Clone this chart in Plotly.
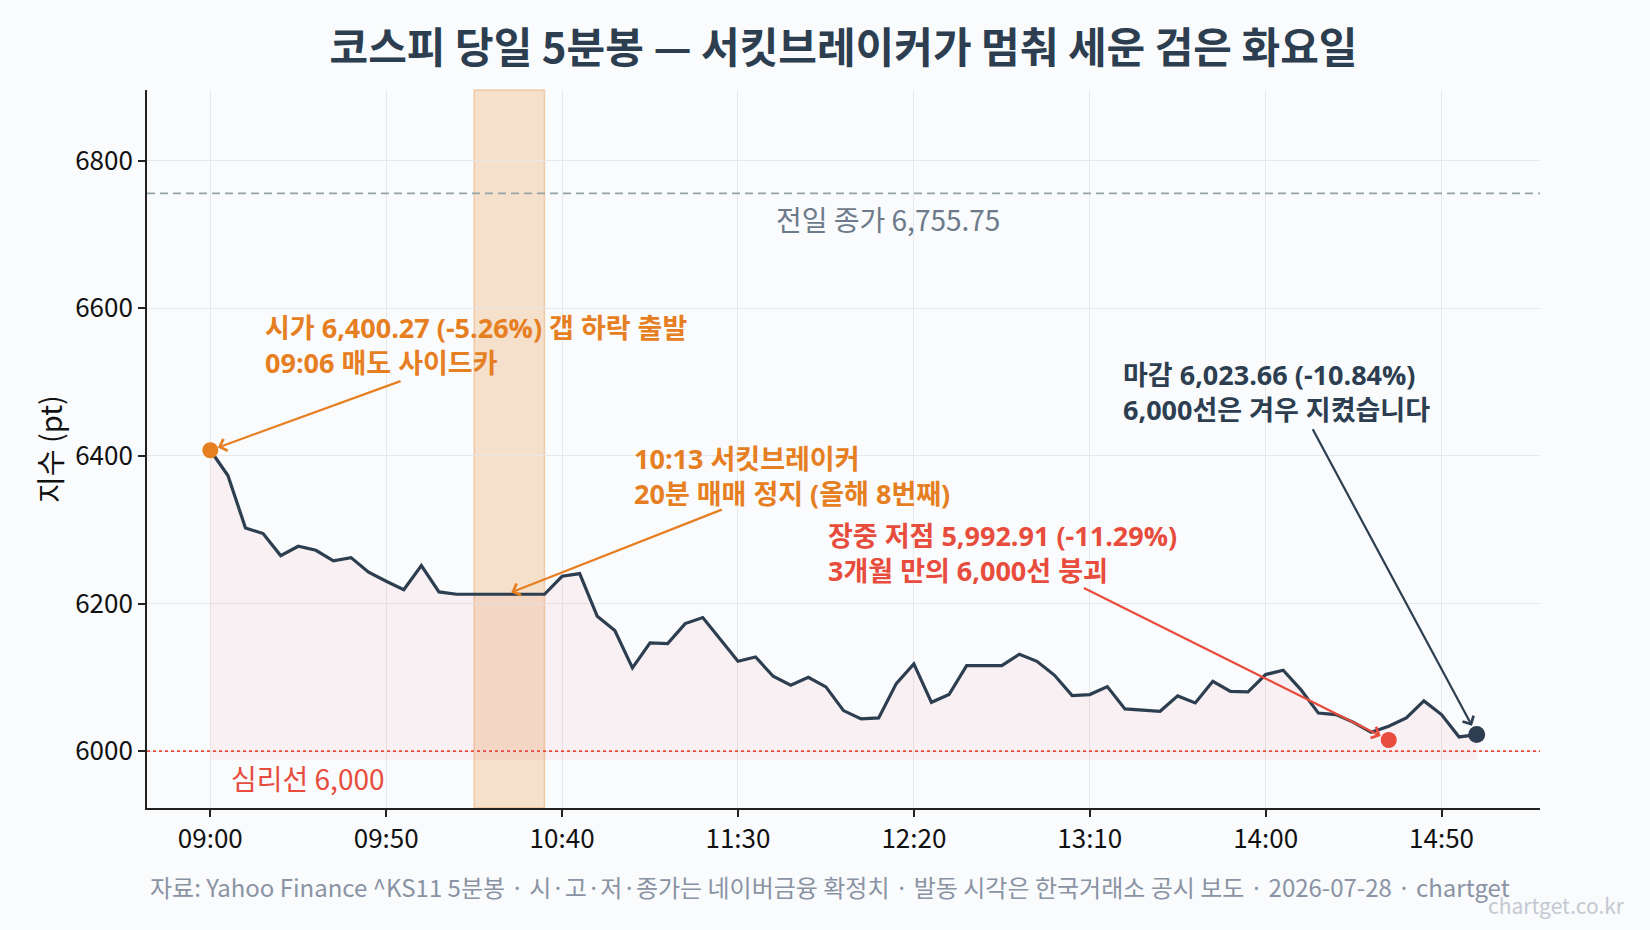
import pandas as pd
import plotly.graph_objects as go

# ---------------- data ----------------
session_date = "2026-07-28"
bar_times = pd.date_range(f"{session_date} 09:00", f"{session_date} 15:00", freq="5min")
kospi_5m = [
    6407.6, 6373.3, 6302.4, 6294.7, 6264.9, 6277.5, 6272.1, 6257.7, 6262.2, 6242.3,
    6230.1, 6218.8, 6251.4, 6215.7, 6212.5, 6212.5, 6212.5, 6212.5, 6212.5, 6212.5,
    6236.9, 6240.5, 6182.7, 6163.3, 6112.7, 6146.6, 6145.7, 6172.8, 6180.9, 6151.0,
    6121.7, 6127.6, 6101.4, 6089.2, 6100.0, 6087.0, 6054.9, 6043.6, 6045.0, 6091.5,
    6118.1, 6066.1, 6076.6, 6115.9, 6115.9, 6115.9, 6131.2, 6121.7, 6102.7, 6075.2,
    6076.6, 6087.4, 6057.2, 6055.8, 6054.0, 6074.8, 6065.3, 6094.6, 6081.0, 6080.2,
    6103.7, 6109.5, 6083.3, 6051.5, 6049.5, 6039.0, 6025.5, 6033.6, 6045.0, 6068.0,
    6049.5, 6019.2, 6022.4,
]
prev_close = 6755.75
psych_line = 6000
open_price = 6400.27
close_price = 6023.66
intraday_low = 5992.91
low_marker_time = f"{session_date} 14:35"
low_marker_val = 6015.0
halt_start = f"{session_date} 10:15"
halt_end = f"{session_date} 10:35"
halt_point_time = f"{session_date} 10:25"
tick_labels = ["09:00", "09:50", "10:40", "11:30", "12:20", "13:10", "14:00", "14:50"]
tick_vals = [f"{session_date} {t}" for t in tick_labels]
y_ticks = [6000, 6200, 6400, 6600, 6800]

FONT = "Noto Sans CJK KR"
ANN_FONT = "Open Sans, Noto Sans CJK KR"
DARK = "#2c3e50"
ORANGE = "#e67e22"
RED = "#e74c3c"
BG = "#f9fbfd"

x = list(bar_times)
fill_base = intraday_low - 5
y_lo = intraday_low - 70
y_hi = prev_close + 140

fig = go.Figure()

# fill under the line
fig.add_trace(go.Scatter(x=x, y=[fill_base] * len(x), mode="lines",
                         line=dict(width=0, color="rgba(0,0,0,0)"),
                         hoverinfo="skip", showlegend=False))
fig.add_trace(go.Scatter(x=x, y=kospi_5m, mode="lines", fill="tonexty",
                         fillcolor="rgba(231,76,60,0.06)",
                         line=dict(width=0, color="rgba(0,0,0,0)"),
                         hoverinfo="skip", showlegend=False))
# main line
fig.add_trace(go.Scatter(x=x, y=kospi_5m, mode="lines",
                         line=dict(color=DARK, width=3.2), showlegend=False))
# markers
fig.add_trace(go.Scatter(x=[x[0]], y=[kospi_5m[0]], mode="markers",
                         marker=dict(color=ORANGE, size=16), showlegend=False))
fig.add_trace(go.Scatter(x=[low_marker_time], y=[low_marker_val], mode="markers",
                         marker=dict(color=RED, size=16), showlegend=False))
fig.add_trace(go.Scatter(x=[x[-1]], y=[kospi_5m[-1]], mode="markers",
                         marker=dict(color=DARK, size=17), showlegend=False))

# shapes
fig.add_shape(type="rect", xref="x", yref="paper", x0=halt_start, x1=halt_end, y0=0, y1=1,
              fillcolor="rgba(230,126,34,0.22)", line=dict(color="rgba(230,126,34,0.30)", width=1.5),
              layer="below")
fig.add_shape(type="line", xref="paper", yref="y", x0=0, x1=1, y0=prev_close, y1=prev_close,
              line=dict(color="#95a5a6", width=1.8, dash="8px,5px"), layer="above")
fig.add_shape(type="line", xref="paper", yref="y", x0=0, x1=1, y0=psych_line, y1=psych_line,
              line=dict(color=RED, width=1.8, dash="dot"), layer="above")

ann = []
ann.append(dict(xref="paper", yref="y", x=0.532, y=prev_close - 35, xanchor="center", yanchor="middle",
                text=f"전일 종가 {prev_close:,.2f}", showarrow=False,
                font=dict(family=FONT, size=28, color="#6c7a89")))
ann.append(dict(xref="x", yref="y", x=f"{session_date} 09:05:20", y=psych_line - 36,
                xanchor="left", yanchor="middle", text=f"심리선 {psych_line:,}", showarrow=False,
                font=dict(family=FONT, size=28, color=RED)))


def arrow(head_x, head_y, tail_x, tail_y, color, standoff):
    return dict(xref="x", yref="y", axref="x", ayref="y", x=head_x, y=head_y, ax=tail_x, ay=tail_y,
                text="", showarrow=True, arrowhead=4, arrowsize=1.1, arrowwidth=2.2,
                arrowcolor=color, standoff=standoff)


def label(xv, yv, lines, color):
    return dict(xref="x", yref="y", x=xv, y=yv, xanchor="left", yanchor="middle", align="left",
                text="<br>".join(f"<b>{s}</b>" for s in lines), showarrow=False,
                font=dict(family=ANN_FONT, size=27, color=color))


open_pct = (open_price / prev_close - 1) * 100
low_pct = (intraday_low / prev_close - 1) * 100
close_pct = (close_price / prev_close - 1) * 100

ann.append(arrow(x[0], kospi_5m[0], f"{session_date} 09:54:30", 6502, ORANGE, 8))
ann.append(label(f"{session_date} 09:15", 6550,
                 [f"시가 {open_price:,.2f} ({open_pct:.2f}%) 갭 하락 출발", "09:06 매도 사이드카"], ORANGE))

ann.append(arrow(halt_point_time, 6214, f"{session_date} 11:25:50", 6328, ORANGE, 2))
ann.append(label(f"{session_date} 11:00", 6373,
                 ["10:13 서킷브레이커", "20분 매매 정지 (올해 8번째)"], ORANGE))

ann.append(arrow(low_marker_time, low_marker_val, f"{session_date} 13:07:55", 6222, RED, 9))
ann.append(label(f"{session_date} 11:55", 6269,
                 [f"장중 저점 {intraday_low:,.2f} ({low_pct:.2f}%)", "3개월 만의 6,000선 붕괴"], RED))

ann.append(arrow(x[-1], kospi_5m[-1], f"{session_date} 14:13:10", 6438, DARK, 10))
ann.append(label(f"{session_date} 13:19", 6486,
                 [f"마감 {close_price:,.2f} ({close_pct:.2f}%)", "6,000선은 겨우 지켰습니다"], DARK))

ann.append(dict(xref="paper", yref="paper", x=0.4903, y=-0.1087, xanchor="center", yanchor="middle",
                text="자료: Yahoo Finance ^KS11 5분봉 · 시·고·저·종가는 네이버금융 확정치 · 발동 시각은 한국거래소 공시 보도 · 2026-07-28 · chartget",
                showarrow=False, font=dict(family=FONT, size=24, color="#8a93a3")))
ann.append(dict(xref="paper", yref="paper", x=1.0625, y=-0.135, xanchor="right", yanchor="middle",
                text="chartget.co.kr", showarrow=False, font=dict(family=FONT, size=21, color="#c3c9d2")))

fig.update_layout(
    width=1650, height=930,
    paper_bgcolor=BG, plot_bgcolor=BG,
    margin=dict(l=147, r=110, t=90, b=122),
    font=dict(family=FONT, color="#222222"),
    title=dict(text="<b>코스피 당일 5분봉 — 서킷브레이커가 멈춰 세운 검은 화요일</b>",
               x=0.5, xref="paper", xanchor="center", y=1 - 48 / 930, yref="container", yanchor="middle",
               font=dict(family=FONT, size=42, color=DARK)),
    annotations=ann,
    showlegend=False,
)
fig.update_xaxes(
    range=[f"{session_date} 08:42", f"{session_date} 15:18"],
    tickvals=tick_vals, ticktext=tick_labels,
    showgrid=True, gridcolor="#e6e8eb", gridwidth=1.3,
    showline=True, linecolor="#222222", linewidth=1.8,
    ticks="outside", ticklen=7, tickwidth=1.6, tickcolor="#222222",
    tickfont=dict(family=FONT, size=26, color="#111111"), zeroline=False,
)
fig.update_yaxes(
    range=[y_lo, y_hi],
    tickvals=y_ticks,
    showgrid=True, gridcolor="#e6e8eb", gridwidth=1.3,
    showline=True, linecolor="#222222", linewidth=1.8,
    ticks="outside", ticklen=7, tickwidth=1.6, tickcolor="#222222",
    tickfont=dict(family=FONT, size=26, color="#111111"), zeroline=False,
    title=dict(text="지수 (pt)", font=dict(family=FONT, size=29, color="#111111"), standoff=4),
)

fig.write_html("out.html")
